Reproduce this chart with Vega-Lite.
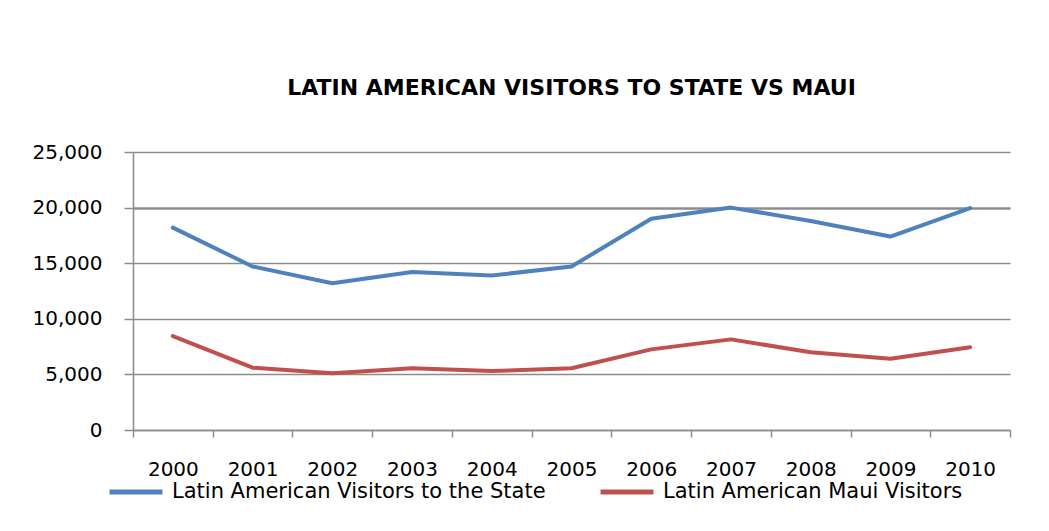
{
  "$schema": "https://vega.github.io/schema/vega-lite/v6.json",
  "width": 877,
  "height": 278,
  "autosize": {"type": "none"},
  "padding": {"left": 133, "top": 152, "right": 39, "bottom": 101},
  "background": "white",
  "title": {
    "text": "LATIN AMERICAN VISITORS TO STATE VS MAUI",
    "font": "DejaVu Sans",
    "fontSize": 22,
    "fontWeight": "bold",
    "color": "#000000",
    "anchor": "middle",
    "offset": 42
  },
  "data": {
    "values": [
      {"year": "2000", "series": "Latin American Visitors  to the State", "visitors": 18200},
      {"year": "2001", "series": "Latin American Visitors  to the State", "visitors": 14700},
      {"year": "2002", "series": "Latin American Visitors  to the State", "visitors": 13200},
      {"year": "2003", "series": "Latin American Visitors  to the State", "visitors": 14200},
      {"year": "2004", "series": "Latin American Visitors  to the State", "visitors": 13900},
      {"year": "2005", "series": "Latin American Visitors  to the State", "visitors": 14700},
      {"year": "2006", "series": "Latin American Visitors  to the State", "visitors": 19000},
      {"year": "2007", "series": "Latin American Visitors  to the State", "visitors": 20000},
      {"year": "2008", "series": "Latin American Visitors  to the State", "visitors": 18800},
      {"year": "2009", "series": "Latin American Visitors  to the State", "visitors": 17400},
      {"year": "2010", "series": "Latin American Visitors  to the State", "visitors": 19950},
      {"year": "2000", "series": "Latin American Maui Visitors", "visitors": 8450},
      {"year": "2001", "series": "Latin American Maui Visitors", "visitors": 5600},
      {"year": "2002", "series": "Latin American Maui Visitors", "visitors": 5100},
      {"year": "2003", "series": "Latin American Maui Visitors", "visitors": 5550},
      {"year": "2004", "series": "Latin American Maui Visitors", "visitors": 5300},
      {"year": "2005", "series": "Latin American Maui Visitors", "visitors": 5550},
      {"year": "2006", "series": "Latin American Maui Visitors", "visitors": 7250},
      {"year": "2007", "series": "Latin American Maui Visitors", "visitors": 8150},
      {"year": "2008", "series": "Latin American Maui Visitors", "visitors": 7000},
      {"year": "2009", "series": "Latin American Maui Visitors", "visitors": 6400},
      {"year": "2010", "series": "Latin American Maui Visitors", "visitors": 7450}
    ]
  },
  "mark": {"type": "line", "strokeWidth": 4, "strokeCap": "round", "strokeJoin": "round"},
  "encoding": {
    "x": {
      "field": "year",
      "type": "ordinal",
      "bandPosition": 0.5,
      "scale": {"type": "band", "paddingInner": 0, "paddingOuter": 0},
      "axis": {
        "title": null,
        "labelAngle": 0,
        "tickBand": "extent",
        "tickSize": 7,
        "tickColor": "#8c8c8c",
        "tickWidth": 1.5,
        "domainColor": "#8c8c8c",
        "domainWidth": 1.5,
        "labelFont": "DejaVu Sans",
        "labelFontSize": 20,
        "labelColor": "#000000",
        "labelBaseline": "top",
        "labelPadding": 22,
        "grid": false
      }
    },
    "y": {
      "field": "visitors",
      "type": "quantitative",
      "scale": {"domain": [0, 25000], "nice": false},
      "axis": {
        "title": null,
        "values": [0, 5000, 10000, 15000, 20000, 25000],
        "format": ",d",
        "tickSize": 9,
        "tickColor": "#8c8c8c",
        "tickWidth": 1.5,
        "domainColor": "#8c8c8c",
        "domainWidth": 1.5,
        "labelFont": "DejaVu Sans",
        "labelFontSize": 20,
        "labelColor": "#000000",
        "labelPadding": 22,
        "grid": true,
        "gridColor": "#8c8c8c",
        "gridWidth": {"condition": {"test": "datum.value === 20000", "value": 2.5}, "value": 1.3}
      }
    },
    "color": {
      "field": "series",
      "type": "nominal",
      "sort": ["Latin American Visitors  to the State", "Latin American Maui Visitors"],
      "scale": {
        "domain": ["Latin American Visitors  to the State", "Latin American Maui Visitors"],
        "range": ["#4F81BD", "#C0504D"]
      },
      "legend": {
        "title": null,
        "orient": "none",
        "direction": "horizontal",
        "legendX": -26,
        "legendY": 311,
        "symbolType": "stroke",
        "symbolSize": 2800,
        "symbolStrokeWidth": 5,
        "labelOffset": 7,
        "columnPadding": 37,
        "labelFont": "DejaVu Sans",
        "labelFontSize": 21,
        "labelColor": "#000000",
        "labelLimit": 500
      }
    }
  },
  "config": {"view": {"stroke": null}}
}
